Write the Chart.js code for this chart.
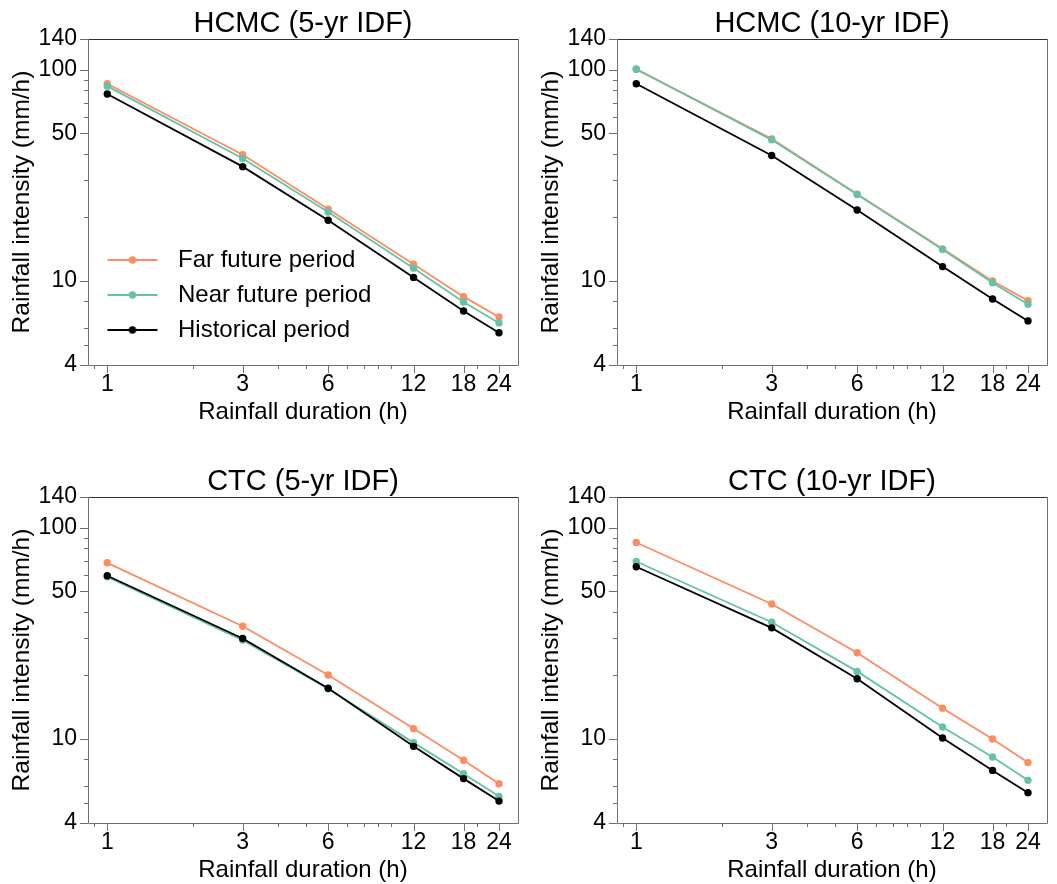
<!DOCTYPE html>
<html lang="en">
  <head>
    <meta charset="UTF-8" />
    <title>IDF curves</title>
    <script src="https://cdn.jsdelivr.net/npm/chart.js@4"></script>
    <style>
      body { margin: 0; background: #fff; }
      .wrap { position: relative; width: 1057px; height: 884px; }
      .panel { position: absolute; width: 528px; height: 440px; }
    </style>
  </head>
  <body>
    <div class="wrap">
      <div class="panel" style="left:0;top:0"><canvas id="c1" width="528" height="440"></canvas></div>
      <div class="panel" style="left:529px;top:0"><canvas id="c2" width="528" height="440"></canvas></div>
      <div class="panel" style="left:0;top:458px"><canvas id="c3" width="528" height="440"></canvas></div>
      <div class="panel" style="left:529px;top:458px"><canvas id="c4" width="528" height="440"></canvas></div>
    </div>

    <script>
      // durations (h) and tick positions
      const durations = [1, 3, 6, 12, 18, 24];
      const xMajor = [1, 3, 6, 12, 18, 24];
      const xMinor = [0.9, 2, 4, 5, 7, 8, 9, 10, 20];
      const yMajor = [4, 10, 50, 100, 140];
      const yMinor = [5, 6, 8, 20, 30, 40, 60, 70, 80, 90];

      // rainfall intensity (mm/h)
      const hcmc5Far = [85.9, 39.6, 21.9, 12.0, 8.43, 6.75];
      const hcmc5Near = [83.7, 38.0, 21.2, 11.5, 7.95, 6.33];
      const hcmc5Hist = [76.9, 34.8, 19.4, 10.4, 7.21, 5.69];

      const hcmc10Far = [100.5, 47.1, 25.8, 14.2, 10.0, 8.07];
      const hcmc10Near = [101, 46.6, 25.7, 14.1, 9.82, 7.76];
      const hcmc10Hist = [85.9, 39.3, 21.7, 11.7, 8.22, 6.47];

      const ctc5Far = [68.3, 34.2, 20.1, 11.2, 7.93, 6.14];
      const ctc5Near = [58.6, 29.4, 17.3, 9.61, 6.85, 5.35];
      const ctc5Hist = [59.3, 29.9, 17.4, 9.23, 6.49, 5.08];

      const ctc10Far = [85.2, 43.6, 25.6, 14.0, 10.0, 7.73];
      const ctc10Near = [69.3, 35.7, 20.9, 11.4, 8.22, 6.37];
      const ctc10Hist = [65.4, 33.6, 19.3, 10.1, 7.1, 5.57];

      const farColor = "#fc8d62";
      const nearColor = "#66c2a5";
      const histColor = "#000000";

      Chart.defaults.font.family = "'Liberation Sans', Arial, sans-serif";
      Chart.defaults.color = "#000";

      // box around the plot + tick marks (major longer than minor)
      const frameTicks = {
        id: "frameTicks",
        beforeDatasetsDraw(chart) {
          const { ctx, chartArea: a, scales } = chart;
          const x = scales.x, y = scales.y;
          ctx.save();
          ctx.lineWidth = 1;
          ctx.strokeStyle = "#707070";
          ctx.beginPath();
          const xt = (v, len) => {
            const px = Math.round(x.getPixelForValue(v)) + 0.5;
            ctx.moveTo(px, a.bottom);
            ctx.lineTo(px, a.bottom + len);
          };
          const yt = (v, len) => {
            const py = Math.round(y.getPixelForValue(v)) + 0.5;
            ctx.moveTo(a.left, py);
            ctx.lineTo(a.left - len, py);
          };
          xMajor.forEach((v) => xt(v, 8));
          xMinor.forEach((v) => xt(v, 4));
          yMajor.forEach((v) => yt(v, 8));
          yMinor.forEach((v) => yt(v, 4));
          ctx.stroke();
          const l = Math.round(a.left) + 0.5, r = Math.round(a.right) + 0.5;
          const t = Math.round(a.top) + 0.5, b = Math.round(a.bottom) + 0.5;
          ctx.beginPath();
          ctx.moveTo(l, t); ctx.lineTo(l, b); ctx.lineTo(r, b); ctx.lineTo(r, t);
          ctx.stroke();
          ctx.strokeStyle = "#303030";
          ctx.beginPath();
          ctx.moveTo(l, t); ctx.lineTo(r, t);
          ctx.stroke();
          ctx.restore();
        },
        afterLayout(chart) {
          // lift the in-plot legend a bit off the bottom axis
          if (chart.legend && chart.options.plugins.legend.display) {
            chart.legend.bottom = chart.chartArea.bottom - 12;
          }
        },
      };

      // small line-with-dot icon for the legend
      function legendIcon(color) {
        const c = document.createElement("canvas");
        c.width = 52;
        c.height = 10;
        const g = c.getContext("2d");
        g.strokeStyle = color;
        g.lineWidth = 2;
        g.beginPath();
        g.moveTo(1, 5);
        g.lineTo(51, 5);
        g.stroke();
        g.fillStyle = color;
        g.beginPath();
        g.arc(26, 5, 3.7, 0, Math.PI * 2);
        g.fill();
        return c;
      }

      function series(label, values, color) {
        return {
          label: label,
          data: durations.map((d, i) => ({ x: d, y: values[i] })),
          borderColor: color,
          backgroundColor: color,
          borderWidth: 1.8,
          pointRadius: 3.7,
          pointBorderWidth: 0,
          pointBackgroundColor: color,
          tension: 0,
        };
      }

      function makePanel(id, title, far, near, hist, showLegend) {
        new Chart(document.getElementById(id), {
          type: "line",
          data: {
            // historical first so it is drawn on top
            datasets: [
              series("Historical period", hist, histColor),
              series("Near future period", near, nearColor),
              series("Far future period", far, farColor),
            ],
          },
          options: {
            responsive: false,
            animation: false,
            layout: { padding: { left: 3, right: 10, top: 9.5, bottom: 13.6 } },
            plugins: {
              tooltip: { enabled: false },
              title: {
                display: true,
                text: title,
                fullSize: false,
                color: "#000",
                font: { size: 29, weight: "normal", lineHeight: 1 },
                padding: { top: 0, bottom: 0.5 },
              },
              legend: {
                display: showLegend,
                position: "chartArea",
                align: "end",
                reverse: true,
                labels: {
                  usePointStyle: true,
                  pointStyleWidth: 67,
                  padding: 11,
                  color: "#000",
                  font: { size: 24 },
                  generateLabels(chart) {
                    const items = Chart.defaults.plugins.legend.labels.generateLabels(chart);
                    items.forEach((it) => {
                      it.pointStyle = legendIcon(chart.data.datasets[it.datasetIndex].borderColor);
                    });
                    return items;
                  },
                },
              },
            },
            scales: {
              x: {
                type: "logarithmic",
                min: 0.855,
                max: 28,
                grid: { display: false, drawTicks: false },
                border: { display: false },
                afterBuildTicks: (s) => { s.ticks = xMajor.map((v) => ({ value: v })); },
                ticks: {
                  autoSkip: false,
                  maxRotation: 0,
                  padding: 6,
                  font: { size: 23 },
                  color: "#000",
                  callback: (v) => String(v),
                },
                title: {
                  display: true,
                  text: "Rainfall duration (h)",
                  color: "#000",
                  font: { size: 24 },
                  padding: { top: -7, bottom: 0 },
                },
              },
              y: {
                type: "logarithmic",
                min: 4,
                max: 140,
                grid: { display: false, drawTicks: false },
                border: { display: false },
                afterBuildTicks: (s) => { s.ticks = yMajor.map((v) => ({ value: v })); },
                ticks: {
                  autoSkip: false,
                  padding: 11,
                  font: { size: 23 },
                  color: "#000",
                  callback: (v) => String(v),
                },
                title: {
                  display: true,
                  text: "Rainfall intensity (mm/h)",
                  color: "#000",
                  font: { size: 24.5 },
                  padding: { top: 4.6, bottom: -9.4 },
                },
              },
            },
          },
          plugins: [frameTicks],
        });
      }

      makePanel("c1", "HCMC (5-yr IDF)", hcmc5Far, hcmc5Near, hcmc5Hist, true);
      makePanel("c2", "HCMC (10-yr IDF)", hcmc10Far, hcmc10Near, hcmc10Hist, false);
      makePanel("c3", "CTC (5-yr IDF)", ctc5Far, ctc5Near, ctc5Hist, false);
      makePanel("c4", "CTC (10-yr IDF)", ctc10Far, ctc10Near, ctc10Hist, false);
    </script>
  </body>
</html>
